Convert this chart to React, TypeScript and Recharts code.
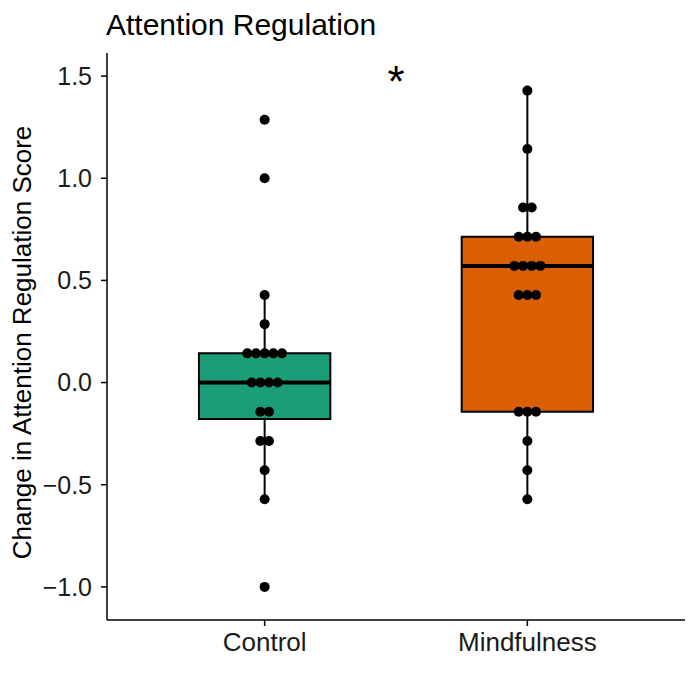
import React from 'react';
import {
  ComposedChart,
  Scatter,
  XAxis,
  YAxis,
  ReferenceArea,
  ReferenceLine,
  ReferenceDot,
} from 'recharts';

const groups = ['Control', 'Mindfulness'];
const groupColors = ['#1B9E77', '#D95F02'];

// individual change scores
const controlScores = [
  1.286, 1.0, 0.429, 0.286,
  0.143, 0.143, 0.143, 0.143, 0.143,
  0, 0, 0, 0,
  -0.143, -0.143, -0.286, -0.286,
  -0.429, -0.571, -1.0,
];
const mindfulnessScores = [
  1.429, 1.143, 0.857, 0.857,
  0.714, 0.714, 0.714,
  0.571, 0.571, 0.571, 0.571,
  0.429, 0.429, 0.429,
  -0.143, -0.143, -0.143,
  -0.286, -0.429, -0.571,
];

// box stats: whisker low, q1, median, q3, whisker high
const boxLow = [-0.571, -0.571];
const boxQ1 = [-0.178, -0.143];
const boxMedian = [0, 0.571];
const boxQ3 = [0.143, 0.714];
const boxHigh = [0.429, 1.429];

const yTicks = [-1, -0.5, 0, 0.5, 1, 1.5];

const FONT = '"Liberation Sans", Arial, Helvetica, sans-serif';
const BOX_HALF = 0.25;
const DOT_STEP = 0.033;

// stack equal values side by side, centred on the group position
const toDots = (scores: number[], pos: number) => {
  const counts: Record<string, number> = {};
  scores.forEach((v) => {
    counts[v] = (counts[v] || 0) + 1;
  });
  const seen: Record<string, number> = {};
  return scores.map((v) => {
    const n = counts[v];
    const i = seen[v] || 0;
    seen[v] = i + 1;
    return { x: pos + (i - (n - 1) / 2) * DOT_STEP, y: v };
  });
};

const dots = [...toDots(controlScores, 1), ...toDots(mindfulnessScores, 2)];

const fmt = (v: number) => (v < 0 ? '\u2212' + Math.abs(v).toFixed(1) : v.toFixed(1));

const Dot = (props: any) => <circle cx={props.cx} cy={props.cy} r={5} fill="#000" />;

const YTitle = ({ viewBox }: any) => {
  const cx = 31;
  const cy = viewBox.y + viewBox.height / 2 + 6;
  return (
    <text
      x={cx}
      y={cy}
      transform={`rotate(-90, ${cx}, ${cy})`}
      textAnchor="middle"
      fontSize={26}
      fontFamily={FONT}
      fill="#000"
    >
      Change in Attention Regulation Score
    </text>
  );
};

const Star = (props: any) => (
  <text x={props.cx} y={props.cy + 25} textAnchor="middle" fontSize={44} fontFamily={FONT} fill="#000">
    *
  </text>
);

export default function App() {
  return (
    <div style={{ position: 'absolute', left: 0, top: 0, width: 700, height: 700, fontFamily: FONT, background: '#fff' }}>
      <div style={{ position: 'absolute', left: 106, top: 10, fontSize: 30, lineHeight: '30px', color: '#000' }}>
        Attention Regulation
      </div>
      <ComposedChart width={700} height={700} margin={{ top: 53, right: 15, bottom: 20, left: 0 }}>
        <XAxis
          type="number"
          dataKey="x"
          domain={[0.4, 2.6]}
          ticks={[1, 2]}
          tickFormatter={(v: number) => groups[v - 1]}
          allowDataOverflow
          height={60}
          tickSize={6}
          tickMargin={7}
          stroke="#000"
          strokeWidth={1.5}
          tick={{ fontSize: 26, fill: '#1a1a1a', fontFamily: FONT }}
        />
        <YAxis
          type="number"
          dataKey="y"
          domain={[-1.162, 1.613]}
          ticks={yTicks}
          tickFormatter={fmt}
          allowDataOverflow
          width={107}
          tickSize={6}
          tickMargin={9}
          stroke="#000"
          strokeWidth={1.5}
          tick={{ fontSize: 25, fill: '#1a1a1a', fontFamily: FONT }}
          label={<YTitle />}
        />
        {groups.map((g, i) => {
          const x = i + 1;
          return (
            <React.Fragment key={g}>
              <ReferenceLine
                segment={[{ x, y: boxQ3[i] }, { x, y: boxHigh[i] }]}
                stroke="#000"
                strokeWidth={2}
              />
              <ReferenceLine
                segment={[{ x, y: boxLow[i] }, { x, y: boxQ1[i] }]}
                stroke="#000"
                strokeWidth={2}
              />
              <ReferenceArea
                x1={x - BOX_HALF}
                x2={x + BOX_HALF}
                y1={boxQ1[i]}
                y2={boxQ3[i]}
                fill={groupColors[i]}
                fillOpacity={1}
                stroke="#000"
                strokeWidth={2}
              />
              <ReferenceLine
                segment={[{ x: x - BOX_HALF, y: boxMedian[i] }, { x: x + BOX_HALF, y: boxMedian[i] }]}
                stroke="#000"
                strokeWidth={4}
              />
            </React.Fragment>
          );
        })}
        <Scatter data={dots} shape={<Dot />} isAnimationActive={false} />
        <ReferenceDot x={1.5} y={1.52} r={0} shape={<Star />} />
      </ComposedChart>
    </div>
  );
}
